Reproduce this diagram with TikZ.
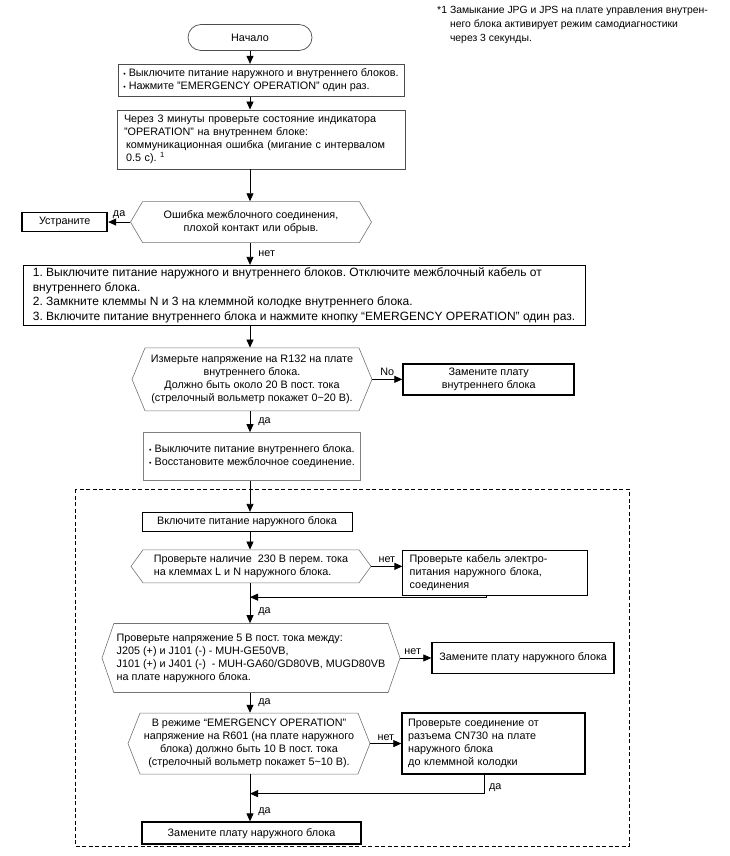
\documentclass[tikz,border=0pt]{standalone}
\usepackage{fontspec}
\setmainfont{Liberation Sans}
\usepackage{tikz}
\usetikzlibrary{positioning,arrows.meta,shapes.symbols,calc}
\newcommand{\fs}{\fontsize{10.8}{13}\selectfont}
\newcommand{\bul}{{\scriptsize\textbullet}\ }
\frenchspacing

\begin{document}
\begin{tikzpicture}[x=1pt,y=-1pt,
  box/.style={draw=black!70,line width=0.7pt,align=left,font=\fs,inner xsep=7pt,inner ysep=2pt},
  heavy/.style={draw,line width=1.8pt,align=center,font=\fs,inner sep=2pt},
  hexa/.style={signal,signal to=west and east,draw=black!55,line width=0.6pt,align=center,font=\fs,inner xsep=2pt,inner ysep=1pt},
  term/.style={draw=black!70,line width=0.7pt,rounded corners=13pt,font=\fs,minimum width=124pt,minimum height=26pt},
  frame/.style={dash pattern=on 4pt off 2.5pt,line width=0.9pt},
  flow/.style={-{Triangle[length=8pt,width=7pt]},line width=0.8pt},
  lab/.style={font=\fs,inner sep=1pt}]
\useasboundingbox (0,0) rectangle (730,856);
\node[font=\fontsize{10.4}{14}\selectfont,align=left,anchor=north west,inner sep=0pt] (note) at (437,4)
  {\begin{tabular}{@{}l@{\hspace{3pt}}l@{}}*1&Замыкание JPG и JPS на плате управления внутрен-\\ &него блока активирует режим самодиагностики\\ &через 3 секунды.\end{tabular}};
\node[term] (start) at (250,37.5) {Начало};
\node[box,below=13pt of start,xshift=11pt,minimum width=286pt,inner xsep=1pt,minimum height=32pt] (off)
  {\bul Выключите питание наружного и внутреннего блоков.\\ \bul Нажмите "EMERGENCY OPERATION" один раз.};
\node[box,below=13pt of off,text width=274pt,minimum height=59pt] (check)
  {Через 3 минуты проверьте состояние индикатора\\ "OPERATION" на внутреннем блоке:\\ \hspace*{2pt}коммуникационная ошибка (мигание с интервалом\\ \hspace*{2pt}0.5 с). \textsuperscript{1}};
\node[hexa,below=32pt of check,xshift=-10pt,minimum height=41pt,minimum width=241pt,signal pointer angle=119] (hex1)
  {Ошибка межблочного соединения,\\ плохой контакт или обрыв.};
\node[heavy,left=22pt of hex1,minimum width=85pt,minimum height=19pt] (fix) {Устраните};
\node[box,draw=black,below=22pt of hex1,xshift=53pt,minimum width=562pt,inner xsep=1pt,minimum height=60pt,font=\fontsize{12}{14.5}\selectfont] (steps)
  {1. Выключите питание наружного и внутреннего блоков. Отключите межблочный кабель от\\ внутреннего блока.\\ 2. Замкните клеммы N и 3 на клеммной колодке внутреннего блока.\\ 3. Включите питание внутреннего блока и нажмите кнопку “EMERGENCY OPERATION" один раз.};
\node[hexa,below=22pt of steps,xshift=-52pt,minimum height=63pt,minimum width=240pt,signal pointer angle=135] (hex2)
  {Измерьте напряжение на R132 на плате\\ внутреннего блока.\\ Должно быть около 20 В пост. тока\\ (стрелочный вольметр покажет 0\textasciitilde20 В).};
\node[heavy,right=30pt of hex2,minimum width=171pt,minimum height=31pt] (repin) {Замените плату\\ внутреннего блока};
\node[box,draw=black!50,below=21pt of hex2,minimum width=217pt,inner xsep=1pt,minimum height=48pt] (restore)
  {\bul Выключите питание внутреннего блока.\\ \bul Восстановите межблочное соединение.};
% outdoor unit checks
\draw[frame] (75,489) rectangle (629,846);
\node[box,draw=black,align=center,below=31pt of restore,xshift=-5pt,minimum width=210pt,minimum height=19pt] (poweron)
  {Включите питание наружного блока};
\node[hexa,align=left,below=18pt of poweron,xshift=4pt,minimum height=33pt,minimum width=240pt,signal pointer angle=108] (hex3)
  {Проверьте наличие\ \ 230 В перем. тока\\ на клеммах L и N наружного блока.};
\node[box,draw=black,right=31pt of hex3,yshift=-6pt,text width=171pt,minimum height=45pt] (cable)
  {Проверьте кабель электро-\\ питания наружного блока,\\ соединения};
\node[hexa,align=left,below=40pt of hex3,minimum height=69pt,minimum width=298pt,signal pointer angle=142] (hex4)
  {Проверьте напряжение 5 В пост. тока между:\\ J205 (+) и J101 (-) - MUH-GE50VB,\\ J101 (+) и J401 (-)\ \ - MUH-GA60/GD80VB, MUGD80VB\\ на плате наружного блока.};
\node[heavy,right=31pt of hex4,minimum width=182pt,minimum height=31pt] (reout) {Замените плату наружного блока};
\node[hexa,below=20pt of hex4,xshift=-2pt,minimum height=61pt,minimum width=242pt,signal pointer angle=137] (hex5)
  {В режиме “EMERGENCY OPERATION"\\ напряжение на R601 (на плате наружного\\ блока) должно быть 10 В пост. тока\\ (стрелочный вольметр покажет 5\textasciitilde10 В).};
\node[heavy,align=left,right=31pt of hex5,text width=171pt,inner xsep=6pt,minimum height=61pt] (conn)
  {Проверьте соединение от\\ разъема CN730 на плате\\ наружного блока\\ до клеммной колодки};
\node[heavy,below=47pt of hex5,xshift=2.5pt,minimum width=219pt,minimum height=22pt] (final) {Замените плату наружного блока};
\coordinate (join1) at ($(hex3.south)!0.35!(hex4.north)$);
\coordinate (join2) at ($(hex5.south)!0.41!(final.north)$);
% connectors
\draw[flow] (start) -- (start |- off.north);
\draw[flow] (start |- off.south) -- (start |- check.north);
\draw[flow] (start |- check.south) -- (start |- hex1.north);
\draw[flow] (hex1.west) -- (fix.east) node[lab,above=2pt,midway] {да};
\draw[flow] (start |- hex1.south) -- (start |- steps.north) node[lab,right=7pt,midway] {нет};
\draw[flow] (start |- steps.south) -- (start |- hex2.north);
\draw[flow] (hex2.east) -- (repin.west) node[lab,above=2pt,midway] {No};
\draw[flow] (start |- hex2.south) -- (start |- restore.north) node[lab,right=7pt,midway] {да};
\draw[flow] (start |- restore.south) -- (start |- poweron.north);
\draw[flow] (start |- poweron.south) -- (start |- hex3.north);
\draw[flow] (hex3.east) -- (hex3.east -| cable.west) node[lab,above=2pt,midway] {нет};
\draw[flow] ([xshift=-9pt]cable.south) |- (start |- join1);
\draw[flow] (start |- hex3.south) -- (start |- hex4.north) node[lab,right=7pt,pos=0.72] {да};
\draw[flow] (hex4.east) -- (reout.west) node[lab,above=2pt,pos=0.4] {нет};
\draw[flow] (start |- hex4.south) -- (start |- hex5.north) node[lab,right=7pt,midway] {да};
\draw[flow] (hex5.east) -- (conn.west) node[lab,above=2pt,midway] {нет};
\draw[flow] ([xshift=-9pt]conn.south) |- (start |- join2) node[lab,right=3pt,pos=0.35] {да};
\draw[flow] (start |- hex5.south) -- (start |- final.north) node[lab,right=7pt,pos=0.8] {да};
\end{tikzpicture}
\end{document}
